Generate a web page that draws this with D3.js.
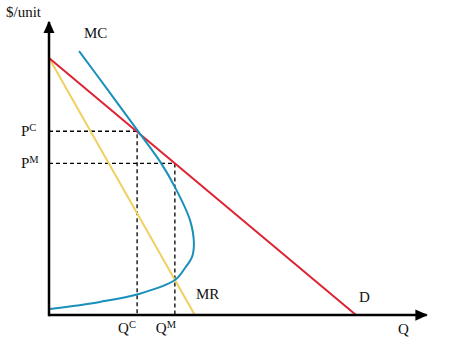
<!DOCTYPE html>
<html>
<head>
<meta charset="utf-8">
<script src="https://cdn.jsdelivr.net/npm/d3@7"></script>
<style>
  body { margin: 0; background: #fff; }
  text { font-family: "Liberation Serif", "DejaVu Serif", serif; fill: #111; }
</style>
</head>
<body>
<svg id="chart" width="455" height="354"></svg>
<script>
// demand and marginal revenue endpoints (Q, P)
var demand = [[0, 10], [10, 0]];
var marginalRevenue = [[0, 10], [4.75, 0]];
// marginal cost curve
var marginalCost = [
    [0.98, 10.27], [1.92, 8.75], [2.87, 7.20], [3.65, 5.91], [4.10, 4.98],
    [4.59, 3.70], [4.72, 2.80], [4.66, 2.26], [4.43, 1.83], [4.10, 1.36],
    [2.93, 0.82], [1.66, 0.51], [0.03, 0.23]
];
// competitive and monopoly outcomes
var outcomes = [
    {q: 2.87, p: 7.15, sup: 'C'},
    {q: 4.10, p: 5.90, sup: 'M'}
];
var axisMax = {q: 12.3, p: 11.4};

var svg = d3.select('#chart');
var x = d3.scaleLinear().domain([0, 10]).range([49, 356]);
var y = d3.scaleLinear().domain([0, 10]).range([315, 58]);

var line = d3.line()
    .x(function(d){ return x(d[0]); })
    .y(function(d){ return y(d[1]); });

svg.append('defs').append('marker')
    .attr('id', 'arrow')
    .attr('viewBox', '0 0 10 10')
    .attr('refX', 9).attr('refY', 5)
    .attr('markerWidth', 5).attr('markerHeight', 4.5)
    .attr('markerUnits', 'strokeWidth')
    .attr('orient', 'auto')
    .attr('preserveAspectRatio', 'none')
  .append('path')
    .attr('d', 'M0,0 L10,5 L0,10 Z')
    .attr('fill', '#000');

// dashed guides
outcomes.forEach(function(o){
    svg.append('path')
        .attr('d', line([[0, o.p], [o.q, o.p], [o.q, 0]]))
        .attr('fill', 'none')
        .attr('stroke', '#000')
        .attr('stroke-width', 1.3)
        .attr('stroke-dasharray', '4,3');
});

svg.append('path')
    .attr('d', line(marginalRevenue))
    .attr('fill', 'none')
    .attr('stroke', '#f0d060')
    .attr('stroke-width', 2);

svg.append('path')
    .attr('d', line(demand))
    .attr('fill', 'none')
    .attr('stroke', '#dd2233')
    .attr('stroke-width', 2);

svg.append('path')
    .attr('d', line.curve(d3.curveCatmullRom.alpha(0.5))(marginalCost))
    .attr('fill', 'none')
    .attr('stroke', '#1990bb')
    .attr('stroke-width', 2);
line.curve(d3.curveLinear);

// axes
svg.append('line')
    .attr('x1', x(0)).attr('y1', y(0))
    .attr('x2', x(axisMax.q)).attr('y2', y(0))
    .attr('stroke', '#000').attr('stroke-width', 2.5)
    .attr('marker-end', 'url(#arrow)');
svg.append('line')
    .attr('x1', x(0)).attr('y1', y(0) + 1.2)
    .attr('x2', x(0)).attr('y2', y(axisMax.p))
    .attr('stroke', '#000').attr('stroke-width', 2.5)
    .attr('marker-end', 'url(#arrow)');

// labels
function label(txt, px, py, sup){
    var t = svg.append('text')
        .attr('x', px).attr('y', py)
        .attr('font-size', 15)
        .text(txt);
    if(sup){
        t.append('tspan')
            .attr('font-size', 10.5)
            .attr('dy', -5)
            .text(sup);
    }
    return t;
}

label('$/unit', 6, 17);
label('MC', 84, 38);
label('MR', 196, 299);
label('D', 359, 302);
label('Q', 398, 334);
outcomes.forEach(function(o){
    label('P', 21, y(o.p) + 5, o.sup);
    label('Q', x(o.q) - 19, 333, o.sup);
});
</script>
</body>
</html>
